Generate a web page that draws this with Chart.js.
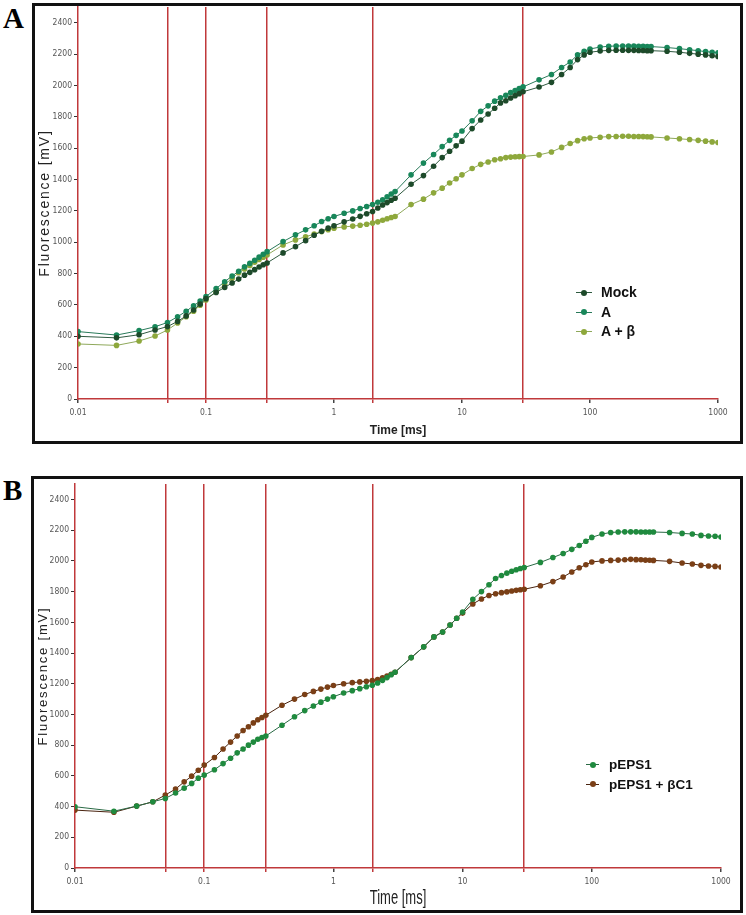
<!DOCTYPE html>
<html>
<head>
<meta charset="utf-8">
<script src="https://cdn.jsdelivr.net/npm/chart.js@4/dist/chart.umd.min.js"></script>
<style>
  body { margin: 0; background: #fff; width: 746px; height: 915px; position: relative; overflow: hidden; font-family: 'Liberation Sans', Arial, sans-serif; }
  canvas { position: absolute; }
  .frame { position: absolute; border: 3px solid #111; box-sizing: border-box; pointer-events: none; }
  .plabel { position: absolute; font-family: 'Liberation Serif', 'DejaVu Serif', serif; font-weight: bold; font-size: 29px; line-height: 1; color: #000; }
  .legend { position: absolute; font-weight: bold; color: #111; }
  .legend .row { position: relative; height: 19.5px; line-height: 19.5px; white-space: nowrap; }
  .legend .ico { position: absolute; top: 9px; height: 1px; }
  .legend .dot { position: absolute; top: -2.5px; width: 6px; height: 6px; border-radius: 50%; }
</style>
</head>
<body>
<div class="plabel" style="left:3px; top:4px;">A</div>
<div class="plabel" style="left:3px; top:476px;">B</div>
<canvas id="chartA" width="703" height="440" style="left:35px; top:0px;"></canvas>
<canvas id="chartB" width="704" height="433" style="left:34px; top:477px;"></canvas>
<div class="frame" style="left:32px; top:3px; width:711px; height:441px;"></div>
<div class="frame" style="left:31px; top:476px; width:712px; height:437px;"></div>
<div class="legend" id="legendA" style="left:576px; top:283px; font-size:14px;"></div>
<div class="legend" id="legendB" style="left:586px; top:755px; font-size:13.5px;"></div>
<script>
// time points in ms (shared by all curves)
var time = [0.01,0.02,0.03,0.04,0.05,0.06,0.07,0.08,0.09,0.1,
  0.12,0.14,0.16,0.18,0.2,0.22,0.24,0.26,0.28,0.3,
  0.4,0.5,0.6,0.7,0.8,0.9,1.0,
  1.2,1.4,1.6,1.8,2.0,2.2,2.4,2.6,2.8,3.0,
  4,5,6,7,8,9,10,
  12,14,16,18,20,22,24,26,28,30,
  40,50,60,70,80,90,100,
  120,140,160,180,200,220,240,260,280,300,
  400,500,600,700,800,900,1000];

// panel A
var namesA = ['Mock', 'A', 'A + \u03b2'];
var mock = [400,390,410,440,462,495,530,568,605,640,
  680,712,740,765,790,808,825,842,856,868,
  932,972,1010,1045,1070,1090,1105,
  1130,1148,1165,1182,1196,1218,1238,1253,1268,1281,
  1370,1425,1485,1540,1580,1615,1645,
  1725,1780,1818,1855,1889,1903,1920,1935,1948,1960,
  1990,2020,2070,2115,2165,2195,2212,
  2220,2224,2225,2225,2224,2224,2223,2223,2222,2222,
  2218,2212,2205,2200,2195,2190,2185];
var aTreat = [430,408,436,461,488,525,560,595,625,653,
  705,748,785,815,843,865,885,905,923,940,
  1004,1047,1079,1105,1132,1150,1164,
  1185,1200,1215,1228,1240,1255,1270,1290,1308,1323,
  1430,1505,1560,1610,1650,1682,1710,
  1775,1835,1870,1900,1922,1938,1955,1968,1980,1991,
  2036,2070,2115,2150,2195,2218,2233,
  2245,2250,2252,2252,2252,2251,2250,2250,2249,2248,
  2242,2235,2228,2222,2216,2212,2208];
var aBeta = [351,342,370,402,440,485,525,560,598,632,
  685,730,770,805,830,852,872,890,905,919,
  983,1015,1035,1052,1068,1080,1090,
  1098,1103,1108,1115,1122,1130,1140,1150,1158,1164,
  1240,1275,1315,1345,1378,1405,1430,
  1470,1497,1512,1526,1533,1540,1543,1545,1546,1547,
  1557,1576,1605,1630,1648,1660,1665,
  1670,1674,1675,1676,1676,1675,1675,1674,1673,1672,
  1665,1660,1655,1650,1645,1640,1636];

// panel B
var namesB = ['pEPS1', 'pEPS1 + \u03b2C1'];
var peps1 = [399,370,403,431,453,488,520,551,585,605,
  640,680,715,750,775,800,820,838,850,860,
  930,985,1025,1055,1080,1100,1115,
  1140,1155,1168,1180,1190,1205,1222,1240,1258,1275,
  1370,1440,1505,1537,1582,1626,1667,
  1750,1800,1845,1885,1905,1920,1932,1942,1950,1957,
  1990,2022,2048,2075,2100,2128,2153,
  2175,2185,2188,2189,2189,2189,2188,2188,2188,2188,
  2185,2179,2175,2166,2162,2160,2155];
var pepsBeta = [377,363,403,431,475,514,561,598,637,670,
  720,775,820,860,895,920,945,965,980,995,
  1060,1100,1130,1150,1165,1178,1188,
  1200,1207,1212,1216,1220,1228,1238,1250,1262,1275,
  1370,1440,1505,1537,1582,1626,1660,
  1720,1752,1775,1786,1793,1798,1804,1808,1812,1815,
  1838,1865,1895,1928,1955,1975,1993,
  2000,2003,2005,2007,2010,2008,2007,2005,2004,2003,
  1997,1986,1980,1971,1967,1964,1960];

// axes
var yTicks = [0,200,400,600,800,1000,1200,1400,1600,1800,2000,2200,2400];
var xDecades = [0.01,0.1,1,10,100,1000];
var xTickLabels = ['0.01','0.1','1','10','100','1000'];
var ojipTimes = [0.05,0.1,0.3,2,30];

var RED = '#c0393b';
var tickFont = { family: "'Liberation Sans Narrow', 'DejaVu Sans Condensed', 'Liberation Sans', sans-serif", size: 8.5 };

function pts(arr) {
    return time.map(function(t, i) { return { x: t, y: arr[i] }; });
}

function series(label, data, color, lineColor) {
    return {
        label: label,
        data: pts(data),
        borderColor: lineColor,
        borderWidth: 1,
        backgroundColor: color,
        pointBackgroundColor: color,
        pointBorderColor: color,
        pointRadius: 2.8,
        pointBorderWidth: 0,
        tension: 0
    };
}

// wrap a scale's drawTitle to add letter spacing / horizontal squeeze
function patchTitle(s, spacing, squeeze) {
    if (s._patched) return;
    var orig = s.drawTitle;
    s.drawTitle = function() {
        var c = this.ctx;
        c.save();
        if (spacing) c.letterSpacing = spacing;
        if (squeeze && squeeze !== 1) {
            var cx = (this.left + this.right) / 2;
            c.translate(cx, 0);
            c.scale(squeeze, 1);
            c.translate(-cx, 0);
        }
        orig.apply(this, arguments);
        c.restore();
    };
    s._patched = true;
}

function makeChart(id, datasets, p) {
    var ctx = document.getElementById(id).getContext('2d');
    return new Chart(ctx, {
        type: 'line',
        data: { datasets: datasets },
        options: {
            responsive: false,
            animation: false,
            layout: { padding: { top: p.padTop, right: p.padRight, left: 0, bottom: 0 } },
            plugins: { legend: { display: false }, tooltip: { enabled: false } },
            scales: {
                x: {
                    type: 'logarithmic',
                    min: 0.01,
                    max: 1000,
                    z: 1,
                    afterBuildTicks: function(s) {
                        var all = xDecades.concat(ojipTimes).filter(function(v, i, a) { return a.indexOf(v) === i; });
                        all.sort(function(a, b) { return a - b; });
                        s.ticks = all.map(function(v) { return { value: v }; });
                    },
                    afterFit: function(s) {
                        s.height = p.xAxisH;
                        patchTitle(s, null, p.xTitleSqueeze);
                    },
                    ticks: {
                        autoSkip: false,
                        maxRotation: 0,
                        padding: 5,
                        color: '#555',
                        font: tickFont,
                        callback: function(v) {
                            var i = xDecades.indexOf(v);
                            return i >= 0 ? xTickLabels[i] : '';
                        }
                    },
                    grid: {
                        lineWidth: 1.5,
                        tickLength: 4,
                        color: function(c) {
                            return c.tick && ojipTimes.indexOf(c.tick.value) >= 0 ? RED : 'rgba(0,0,0,0)';
                        },
                        tickColor: function(c) {
                            return c.tick && ojipTimes.indexOf(c.tick.value) >= 0 ? RED : '#444';
                        }
                    },
                    border: { color: RED, width: 1.5 },
                    title: {
                        display: true,
                        text: 'Time [ms]',
                        color: '#222',
                        font: p.xTitleFont,
                        padding: { top: 0, bottom: p.xTitleBottom }
                    }
                },
                y: {
                    type: 'linear',
                    min: 0,
                    max: 2500,
                    afterBuildTicks: function(s) {
                        s.ticks = yTicks.map(function(v) { return { value: v }; });
                    },
                    afterFit: function(s) {
                        s.width = p.yAxisW;
                        patchTitle(s, p.yTitleSpacing, 1);
                    },
                    ticks: {
                        padding: 2,
                        color: '#555',
                        font: tickFont,
                        callback: function(v) { return String(v); }
                    },
                    grid: { drawOnChartArea: false, tickLength: 4, tickColor: '#333' },
                    border: { color: RED, width: 1.5 },
                    title: {
                        display: true,
                        text: 'Fluorescence [mV]',
                        color: '#222',
                        font: p.yTitleFont,
                        padding: { top: p.yTitlePad, bottom: 0 }
                    }
                }
            }
        }
    });
}

var chartA = makeChart('chartA', [
    series(namesA[0], mock, '#1d4a2a', '#2f5a40'),
    series(namesA[1], aTreat, '#18875a', '#2a7a5a'),
    series(namesA[2], aBeta, '#8ea83c', '#8ea85a')
], {
    padTop: 7, padRight: 20, xAxisH: 41, yAxisW: 43,
    xTitleFont: { family: "'Liberation Sans', sans-serif", size: 12, weight: 'bold' },
    xTitleBottom: 2,
    xTitleSqueeze: 1,
    yTitleFont: { family: "'Liberation Sans', sans-serif", size: 14 },
    yTitleSpacing: '1.8px',
    yTitlePad: 2
});

var chartB = makeChart('chartB', [
    series(namesB[0], peps1, '#1f8a3e', '#2a6a45'),
    series(namesB[1], pepsBeta, '#7a3f16', '#4a2410')
], {
    padTop: 7, padRight: 17, xAxisH: 42, yAxisW: 41,
    xTitleFont: { family: "'Liberation Sans', sans-serif", size: 20 },
    xTitleBottom: 0,
    xTitleSqueeze: 0.65,
    yTitleFont: { family: "'Liberation Sans', sans-serif", size: 13 },
    yTitleSpacing: '1.8px',
    yTitlePad: 2
});

function buildLegend(el, chart, textLeft, iconW) {
    chart.data.datasets.forEach(function(ds) {
        var row = document.createElement('div');
        row.className = 'row';
        row.style.paddingLeft = textLeft + 'px';
        var ico = document.createElement('span');
        ico.className = 'ico';
        ico.style.left = '0px';
        ico.style.width = iconW + 'px';
        ico.style.background = ds.borderColor;
        var dot = document.createElement('span');
        dot.className = 'dot';
        dot.style.left = (iconW / 2 - 3) + 'px';
        dot.style.background = ds.pointBackgroundColor;
        ico.appendChild(dot);
        row.appendChild(ico);
        row.appendChild(document.createTextNode(ds.label));
        el.appendChild(row);
    });
}
buildLegend(document.getElementById('legendA'), chartA, 25, 16);
buildLegend(document.getElementById('legendB'), chartB, 23, 13);
</script>
</body>
</html>
